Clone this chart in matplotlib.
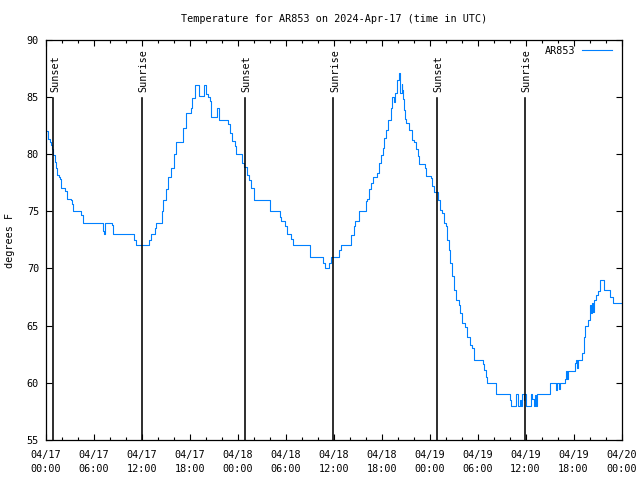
import numpy as np
import matplotlib
matplotlib.use('Agg')
import matplotlib.pyplot as plt

# hours since 2024-04-17 00:00 UTC and temperature (degrees F)
hours = [0.0, 0.25, 0.46, 0.67, 0.79, 0.92, 1.08, 1.25, 1.42, 1.63, 1.79, 1.92,
         2.42, 2.58, 3.08, 3.21, 3.42, 4.42, 4.67, 7.17, 7.25, 7.33, 7.42, 8.21,
         8.38, 11.0, 11.2, 12.88, 13.08, 13.6, 13.75, 14.46, 14.67, 14.96, 15.3,
         15.7, 16.0, 16.3, 17.2, 17.5, 18.1, 18.3, 18.6, 19.2, 19.75, 20.0, 20.3,
         20.5, 20.6, 21.4, 21.6, 22.8, 23.0, 23.3, 23.6, 23.8, 24.5, 24.8, 25.1,
         25.4, 25.7, 26.0, 28.0, 29.25, 29.4, 29.96, 30.1, 30.7, 30.9, 33.0, 34.7,
         34.9, 35.4, 35.6, 36.7, 36.9, 38.2, 38.5, 38.7, 39.2, 40.0, 40.2, 40.4,
         40.6, 40.9, 41.4, 41.6, 41.96, 42.2, 42.3, 42.5, 42.8, 43.2, 43.3, 43.5,
         43.7, 43.96, 44.2, 44.3, 44.5, 44.6, 44.7, 44.8, 44.9, 45.1, 45.4, 45.8,
         46.1, 46.3, 46.5, 46.7, 47.4, 47.6, 48.2, 48.3, 48.6, 49.0, 49.3, 49.6,
         49.75, 50.0, 50.2, 50.4, 50.6, 50.8, 51.1, 51.3, 51.7, 51.8, 52.1, 52.4,
         52.7, 53.0, 53.3, 53.6, 54.7, 54.75, 55.0, 55.2, 56.25, 58.0, 58.2, 58.8,
         59.0, 59.3, 59.4, 59.6, 59.75, 59.85, 60.0, 60.7, 60.85, 61.0, 61.2, 61.35,
         61.45, 63.1, 63.75, 63.9, 64.2, 64.35, 64.96, 65.05, 65.2, 65.35, 66.2,
         66.3, 66.45, 66.6, 67.1, 67.25, 67.4, 67.8, 68.0, 68.1, 68.2, 68.3, 68.4,
         68.6, 68.8, 69.0, 69.25, 69.8, 70.5, 70.9, 72.0]
temps = [82.0, 81.3, 81.0, 80.8, 80.4, 79.9, 79.3, 78.8, 78.2, 78.0, 77.8, 77.0,
         76.8, 76.1, 76.0, 75.6, 75.0, 74.7, 74.0, 73.3, 73.0, 73.6, 74.0, 73.8,
         73.0, 72.5, 72.0, 72.5, 73.0, 73.5, 74.0, 75.0, 76.0, 76.9, 78.0,
         78.8, 80.0, 81.0, 82.3, 83.6, 84.0, 84.9, 86.0, 85.1, 86.0, 85.2, 85.0,
         84.6, 83.2, 84.0, 83.0, 82.6, 81.8, 81.1, 80.7, 80.0, 79.2, 78.9, 78.2,
         77.75, 77.0, 76.0, 75.0, 74.5, 74.1, 73.7, 73.0, 72.6, 72.0, 71.0, 70.5,
         70.0, 70.5, 71.0, 71.6, 72.0, 72.9, 73.7, 74.1, 75.0, 75.9, 76.1, 76.9,
         77.5, 78.0, 78.3, 79.2, 79.9, 80.5, 81.4, 82.1, 83.0, 84.0, 85.0, 84.5,
         85.3, 86.5, 87.1, 85.3, 86.1, 85.6, 84.8, 83.8, 83.06, 82.7, 82.1, 81.25,
         81.0, 80.4, 79.8, 79.1, 78.8, 78.1, 77.9, 77.2, 76.7, 76.0, 75.1, 74.8,
         74.0, 73.7, 72.5, 71.6, 70.5, 69.3, 68.1, 67.25, 66.8, 66.1, 65.2, 64.9,
         64.0, 63.3, 63.0, 62.0, 61.6, 61.1, 60.5, 60.0, 59.0, 58.5, 58.0, 59.0,
         58.0, 58.5, 58.0, 59.0, 58.5, 59.0, 58.0, 59.0, 58.6, 58.0, 58.9, 58.0,
         59.0, 60.0, 59.4, 60.0, 59.5, 60.0, 60.3, 61.0, 60.3, 61.0, 61.7,
         62.0, 61.3, 62.0, 62.6, 64.0, 65.0, 65.5, 66.1, 66.8, 66.1, 67.0, 66.2,
         67.25, 67.7, 68.0, 69.0, 68.1, 67.5, 67.0, 67.0]

sunset_hours = [0.93, 24.93, 48.95]
sunrise_hours = [12.0, 35.95, 59.93]
tick_hours = list(range(0, 73, 6))
tick_labels = ['04/17\n00:00', '04/17\n06:00', '04/17\n12:00', '04/17\n18:00',
               '04/18\n00:00', '04/18\n06:00', '04/18\n12:00', '04/18\n18:00',
               '04/19\n00:00', '04/19\n06:00', '04/19\n12:00', '04/19\n18:00',
               '04/20\n00:00']

plt.rcParams['font.family'] = ['DejaVu Sans Mono']
fs = 7.3

fig = plt.figure(figsize=(6.4, 4.8), dpi=100)
ax = fig.add_axes([46 / 640, 40 / 480, 575.5 / 640, 400.5 / 480])

ax.plot(hours, temps, drawstyle='steps-post', color='#0080ff', lw=0.8, label='AR853')

for h in sunset_hours:
    ax.axvline(h, ymin=0, ymax=0.853, color='black', lw=1.15)
    ax.text(h + 0.2, 0.87, 'Sunset', rotation=90, ha='center', va='bottom',
            transform=ax.get_xaxis_transform(), fontsize=fs)
for h in sunrise_hours:
    ax.axvline(h, ymin=0, ymax=0.853, color='black', lw=1.15)
    ax.text(h + 0.2, 0.87, 'Sunrise', rotation=90, ha='center', va='bottom',
            transform=ax.get_xaxis_transform(), fontsize=fs)

ax.set_xlim(0, 72)
ax.set_ylim(55, 90)
ax.set_xticks(tick_hours)
ax.set_xticklabels(tick_labels, fontsize=fs, linespacing=1.55)
ax.set_xticks(range(0, 73, 2), minor=True)
ax.set_yticks(range(55, 91, 5))
ax.tick_params(axis='y', labelsize=fs)
ax.tick_params(which='major', direction='in', length=4.5, width=0.8,
               top=True, right=True, pad=5)
ax.tick_params(which='minor', direction='in', length=2.5, width=0.8,
               top=True, right=False)
ax.tick_params(axis='x', pad=7)
for s in ax.spines.values():
    s.set_linewidth(0.9)

ax.legend(loc='upper right', bbox_to_anchor=(0.996, 1.002), frameon=False,
          markerfirst=False, fontsize=fs, handlelength=3.0, handletextpad=0.6,
          borderaxespad=0.3)

fig.text(334 / 640, 1 - 19 / 480, 'Temperature for AR853 on 2024-Apr-17 (time in UTC)',
         ha='center', va='center', fontsize=fs)
fig.text(10 / 640, 0.5, 'degrees F', rotation=90, ha='center', va='center', fontsize=fs)

fig.savefig('out.png', dpi=100)
